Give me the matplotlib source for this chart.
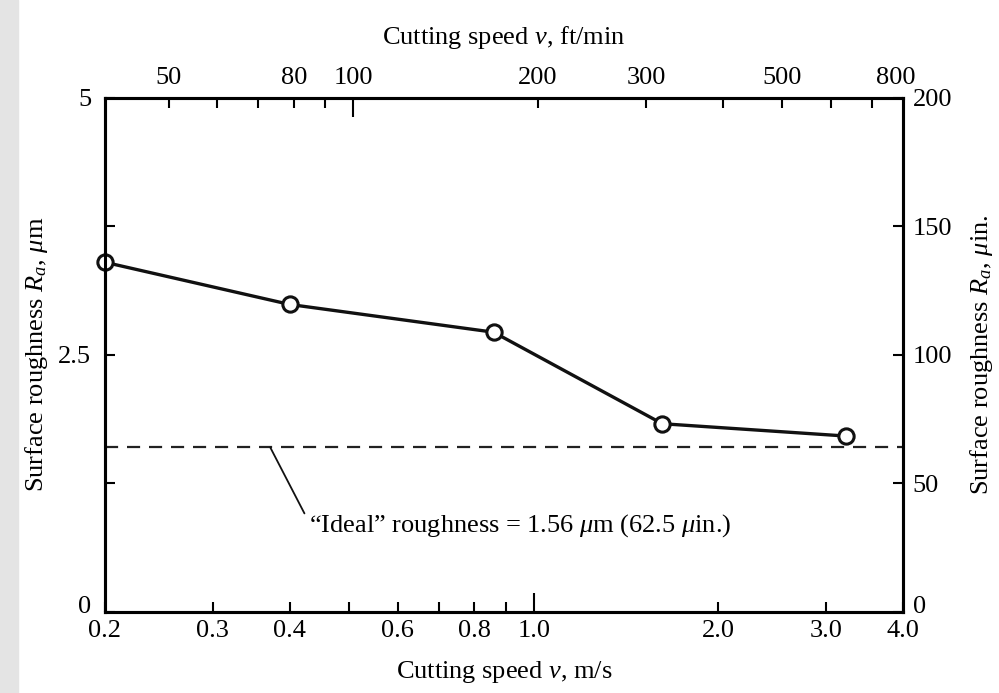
import matplotlib.pyplot as plt
from matplotlib.patches import Rectangle
from matplotlib.transforms import ScaledTranslation

# data
speed_ms = [0.2, 0.4, 0.86, 1.62, 3.23]
roughness_um = [3.40, 2.99, 2.72, 1.83, 1.71]
ideal_um = 1.6

bottom_ticks = [0.2, 0.3, 0.4, 0.6, 0.8, 1.0, 2.0, 3.0, 4.0]
bottom_labels = ['0.2', '0.3', '0.4', '0.6', '0.8', '1.0', '2.0', '3.0', '4.0']
bottom_minor = [0.5, 0.7, 0.9]
top_ticks = [50, 80, 100, 200, 300, 500]
top_labels = ['50', '80', '100', '200', '300', '500']
top_minor = [60, 70, 90, 400, 600, 700]
left_ticks = [0, 2.5, 5]
left_labels = ['0', '2.5', '5']
left_minor = [1.25, 3.75]
right_ticks = [0, 50, 100, 150, 200]

FT_PER_M = 196.85  # 1 m/s in ft/min

plt.rcParams['font.family'] = 'Liberation Serif'
plt.rcParams['mathtext.fontset'] = 'custom'
plt.rcParams['mathtext.rm'] = 'Liberation Serif'
plt.rcParams['mathtext.it'] = 'Liberation Serif:italic'
plt.rcParams['font.size'] = 19

fig = plt.figure(figsize=(9.99, 6.93), dpi=100)
fig.patches.append(Rectangle((0, 0), 0.018, 1, transform=fig.transFigure,
                             color='#e4e4e4', zorder=-1))
ax = fig.add_axes([0.105, 0.117, 0.799, 0.742])

ax.axhline(ideal_um, color='#222222', lw=1.6, dashes=(5.9, 4))
ax.plot(speed_ms, roughness_um, color='#111111', lw=2.4, marker='o',
        markersize=11, markerfacecolor='white', markeredgewidth=2.2,
        markeredgecolor='#111111', clip_on=False, zorder=5)

ax.set_xscale('log')
ax.set_xlim(0.2, 4.0)
ax.set_ylim(0, 5)

ax.set_xticks(bottom_ticks)
ax.set_xticklabels(bottom_labels)
ax.set_xticks(bottom_minor, minor=True)
ax.set_yticks(left_ticks)
ax.set_yticklabels(left_labels)
ax.set_yticks(left_minor, minor=True)
ax.tick_params(which='both', direction='in', length=7, width=1.5)
ax.tick_params(axis='x', which='both', top=False, pad=6)
ax.tick_params(axis='y', pad=10)
ax.xaxis.get_major_ticks()[5].tick1line.set_markersize(14)

for s in ax.spines.values():
    s.set_linewidth(2.2)

ax.set_xlabel('Cutting speed $v$, m/s', labelpad=12)
ax.set_ylabel('Surface roughness $R_a$, $\\mu$m', labelpad=6)

top = ax.secondary_xaxis('top', functions=(lambda v: v * FT_PER_M,
                                           lambda f: f / FT_PER_M))
top.set_xticks(top_ticks)
top.set_xticklabels(top_labels)
top.set_xticks(top_minor, minor=True)
top.set_xticklabels([''] * len(top_minor), minor=True)
top.tick_params(which='both', direction='in', length=7, width=1.5, pad=6)
top.xaxis.get_major_ticks()[2].tick2line.set_markersize(14)
top.set_xlabel('Cutting speed $v$, ft/min', labelpad=17)
ax.annotate('800', xy=(1, 1), xycoords='axes fraction', xytext=(-5, 6),
            textcoords='offset points', ha='center', va='bottom')

right = ax.twinx()
right.set_ylim(0, 200)
right.set_yticks(right_ticks)
right.tick_params(direction='in', length=7, width=1.5, pad=7)
right.set_ylabel('Surface roughness $R_a$, $\\mu$in.', labelpad=11)
for s in right.spines.values():
    s.set_linewidth(2.2)

# lift the two "0" labels off the bottom corners, as in the original
up = ScaledTranslation(0, 5 / 72, fig.dpi_scale_trans)
lbl = ax.yaxis.get_major_ticks()[0].label1
lbl.set_transform(lbl.get_transform() + up)
lbl = right.yaxis.get_major_ticks()[0].label2
lbl.set_transform(lbl.get_transform() + up)

ax.annotate('\u201cIdeal\u201d roughness = 1.56 $\\mu$m (62.5 $\\mu$in.)',
            xy=(0.372, ideal_um), xytext=(28, -56), textcoords='offset points',
            ha='left', va='center',
            arrowprops=dict(arrowstyle='-', color='#111111', lw=1.3,
                            shrinkA=3, shrinkB=0, relpos=(0, 0.6)))

fig.savefig('out.png', dpi=100)
